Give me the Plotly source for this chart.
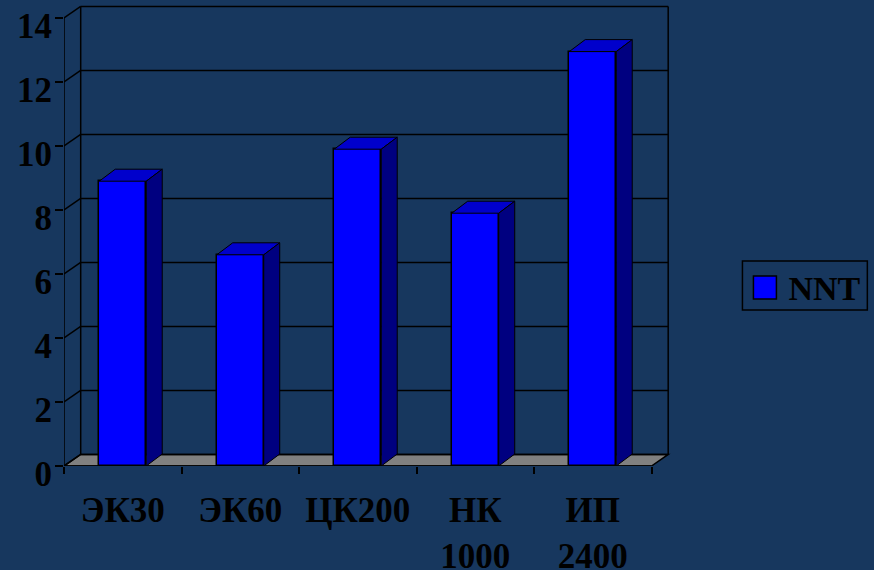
import plotly.graph_objects as go

categories = ["ЭК30", "ЭК60", "ЦК200", "НК<br>1000", "ИП<br>2400"]
nnt_values = [8.9, 6.6, 9.9, 7.9, 12.95]
y_ticks = [0, 2, 4, 6, 8, 10, 12, 14]

BG = "#17375E"
FRONT, TOP, SIDE = "#0000FF", "#0000CC", "#000080"
DX, DY = 0.142, 0.36          # oblique depth, in axis units
BDX, BDY = 0.136, 0.375       # depth of a bar
W = 0.4
FONT = dict(family="Liberation Serif", size=35, color="black", weight="bold")
LEGEND_FONT = dict(family="Liberation Serif", size=34, color="black", weight="bold")
LW = 1.5
xs = list(range(len(categories)))
x0, x1 = -0.5, len(categories) - 0.5
ymax = y_ticks[-1]

fig = go.Figure()
fig.add_trace(go.Bar(x=xs, y=nnt_values, width=W, name="NNT", cliponaxis=False, showlegend=False,
                     marker=dict(color=FRONT, line=dict(color="black", width=LW))))
# legend entry without an outline; the larger outlined swatch is a shape beneath it
fig.add_trace(go.Bar(x=[xs[0]], y=[None], name="NNT", showlegend=True, hoverinfo="skip",
                     marker=dict(color=FRONT, line=dict(width=0))))

for x, v in zip(xs, nnt_values):
    l, r = x - W / 2, x + W / 2
    fig.add_trace(go.Scatter(x=[l, l + BDX, r + BDX, r, l], y=[v, v + BDY, v + BDY, v, v],
                             mode="lines", fill="toself", fillcolor=TOP,
                             line=dict(color="black", width=1), showlegend=False, hoverinfo="skip"))
    fig.add_trace(go.Scatter(x=[r, r + BDX, r + BDX, r, r], y=[v, v + BDY, BDY, 0, v],
                             mode="lines", fill="toself", fillcolor=SIDE,
                             line=dict(color="black", width=1), showlegend=False, hoverinfo="skip"))

# front axis lines
fig.add_trace(go.Scatter(x=[x0, x0, None, x0, x1], y=[0, ymax, None, 0, 0], mode="lines",
                         cliponaxis=False, line=dict(color="black", width=LW),
                         showlegend=False, hoverinfo="skip"))

line = dict(color="black", width=LW)
shapes = [dict(type="path", layer="below", xref="x", yref="y", fillcolor="#808080", line=line,
               path=f"M{x0},0 L{x1},0 L{x1 + DX},{DY} L{x0 + DX},{DY} Z")]
for t in y_ticks:
    shapes.append(dict(type="line", layer="below", xref="x", yref="y", line=line,
                       x0=x0 + DX, x1=x1 + DX, y0=t + DY, y1=t + DY))
    shapes.append(dict(type="line", layer="below", xref="x", yref="y", line=line,
                       x0=x0, x1=x0 + DX, y0=t, y1=t + DY))
for bx in (x0 + DX, x1 + DX):
    shapes.append(dict(type="line", layer="below", xref="x", yref="y", line=line,
                       x0=bx, x1=bx, y0=DY, y1=ymax + DY))

# legend frame and swatch, sized as in the reference (native ones are fixed by font size)
PW, PH = 611.5, 464
shapes.append(dict(type="rect", xref="paper", yref="paper", layer="above", line=line,
                   x0=(743 - 64) / PW, x1=(868 - 64) / PW,
                   y0=(466 - 310) / PH, y1=(466 - 261) / PH))
shapes.append(dict(type="rect", xref="paper", yref="paper", layer="above", fillcolor=FRONT,
                   line=dict(color="black", width=LW),
                   x0=(754 - 64) / PW, x1=(777 - 64) / PW,
                   y0=(466 - 299) / PH, y1=(466 - 276) / PH))

fig.update_layout(
    width=874, height=570, autosize=False,
    margin=dict(l=64, r=198.5, t=2, b=104, pad=0),
    paper_bgcolor=BG, plot_bgcolor=BG,
    font=FONT, barmode="overlay", bargap=0, shapes=shapes,
    xaxis=dict(range=[x0, 4.7], tickmode="array", tickvals=xs, ticktext=categories,
               tickfont=FONT, ticks="", ticklabelstandoff=20, showgrid=False, zeroline=False,
               showline=False, automargin=False,
               minor=dict(tickmode="array", tickvals=[x0 + i for i in range(len(categories) + 1)],
                          ticks="outside", ticklen=7, tickwidth=LW, tickcolor="black", showgrid=False)),
    yaxis=dict(range=[0, 14.5], tickmode="array", tickvals=y_ticks, tickfont=FONT,
               ticks="outside", ticklen=8, tickwidth=LW, tickcolor="black", ticklabelshift=8,
               ticklabelstandoff=-4, showgrid=False, zeroline=False, showline=False, automargin=False),
    showlegend=True,
    legend=dict(x=(743 - 64) / PW, xanchor="left", y=(466 - 287) / PH, yanchor="middle",
                bgcolor="rgba(0,0,0,0)", borderwidth=0, font=LEGEND_FONT, itemwidth=36),
)
fig.write_html("out.html", config=dict(displayModeBar=False),
               post_script="document.body.style.margin='0';document.documentElement.style.overflow='hidden';")
